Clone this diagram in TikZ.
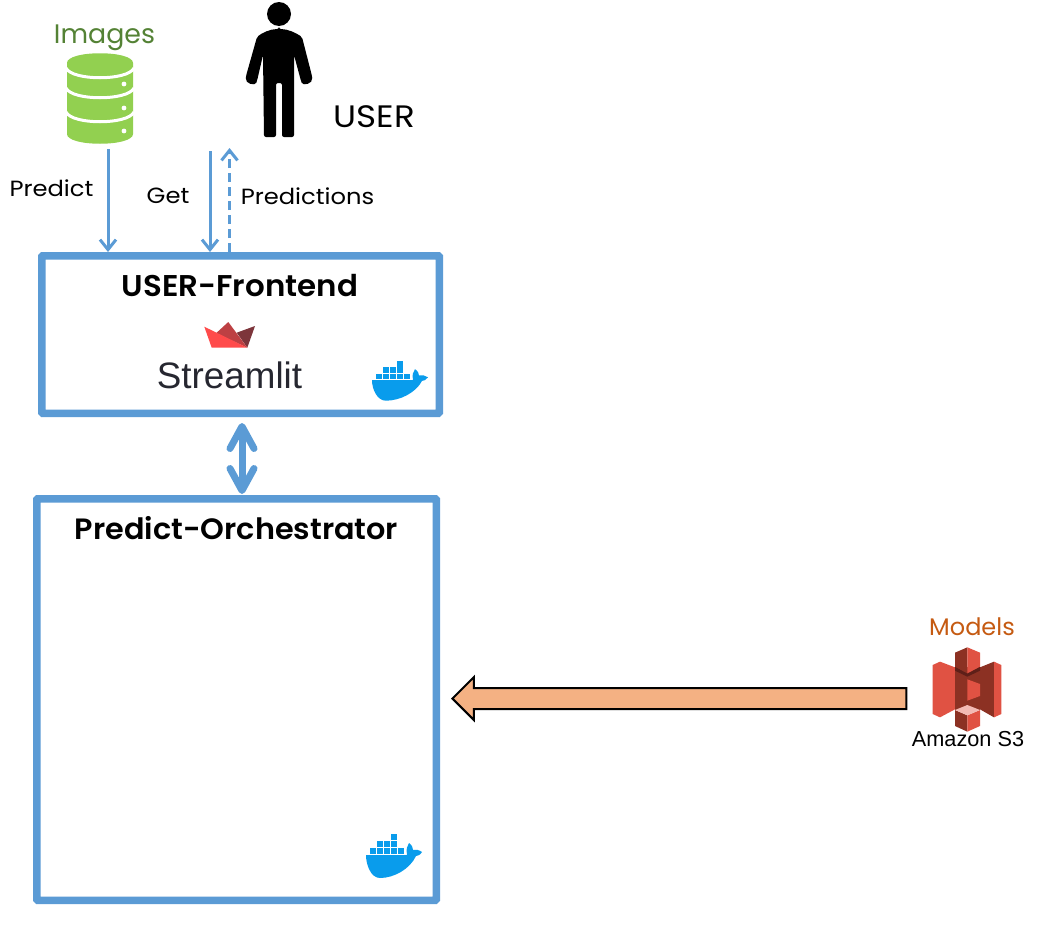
\documentclass[tikz,border=0pt]{standalone}
\usepackage{fontspec}
\setmainfont{Poppins}
\newfontfamily\logofont{Liberation Sans}
\newfontfamily\widefont{Poppins}[FakeStretch=1.1]
\newfontfamily\titlefont{Poppins SemiBold}[FakeStretch=1.03]
\usetikzlibrary{arrows.meta,shapes.arrows}
\definecolor{boxblue}{RGB}{91,155,213}
\definecolor{dockerblue}{RGB}{9,156,236}
\definecolor{dbgreen}{RGB}{146,208,80}
\definecolor{imggreen}{RGB}{84,130,53}
\definecolor{modelorange}{RGB}{197,90,17}
\definecolor{arrowfill}{RGB}{244,177,131}
\definecolor{sthree}{RGB}{224,82,67}
\definecolor{sthreedark}{RGB}{140,49,35}
\definecolor{sthreeshade}{RGB}{94,31,24}
\definecolor{crownbright}{RGB}{255,75,75}
\definecolor{crownmid}{RGB}{189,64,67}
\definecolor{crowndark}{RGB}{125,53,59}
\definecolor{logotext}{RGB}{38,39,48}
\tikzset{
  servicebox/.style={draw=boxblue,line width=7.5pt,rounded corners=1pt,fill=white,inner sep=0pt},
  titlelabel/.style={font=\titlefont\fontsize{30}{30}\selectfont,text=black},
  flowlabel/.style={font=\widefont\fontsize{22}{22}\selectfont,text=black},
  flow/.style={draw=boxblue,line width=3pt,-{Straight Barb[length=10pt,width=16pt,line width=3pt]}},
  biflow/.style={draw=boxblue,line width=7pt,{Straight Barb[length=22pt,width=24pt,line width=7pt,round]}-{Straight Barb[length=22pt,width=24pt,line width=7pt,round]}},
  feed/.style={single arrow,draw=black,line width=2pt,fill=arrowfill,shape border rotate=180,anchor=tip,
    inner xsep=0pt,inner ysep=9.5pt,single arrow head extend=11pt,minimum height=454pt},
  dockerlogo/.pic={
    \fill[dockerblue] (0,0) -- (41,0) .. controls (40,-6) and (41,-9) .. (43,-12) .. controls (46,-10) and (47,-7) .. (47,-5)
      .. controls (50,-6) and (53,-5) .. (56,-3) .. controls (54,0) and (52,1) .. (50,1)
      .. controls (44,14) and (28,23) .. (14,23) .. controls (5,23) and (0,10) .. (0,0) -- cycle;
    \foreach \i in {0,...,4} \fill[dockerblue] (4+6.9*\i,-0.7) rectangle ++(6.2,-6.3);
    \foreach \i in {1,2,3} \fill[dockerblue] (4+6.9*\i,-7.7) rectangle ++(6.2,-6.3);
    \fill[dockerblue] (24.7,-14.9) rectangle ++(6.2,-6.6);
  },
}
\begin{document}
\begin{tikzpicture}[x=1pt,y=-1pt]
\useasboundingbox (0,0) rectangle (1047,929);

% Service boxes
\node[servicebox,minimum width=397.5pt,minimum height=157.5pt] (frontend) at (240.5,334.5) {};
\node[servicebox,minimum width=399.5pt,minimum height=401.5pt] (orchestrator) at (236.5,699.5) {};
\node[titlelabel] (frontendtitle) at (240,285.5) {USER-Frontend};
\node[titlelabel,font=\titlefont\fontsize{29.4}{29.4}\selectfont] (orchestratortitle) at (236.5,528) {Predict-Orchestrator};

% Streamlit logo
\fill[crowndark] (236.7,332.7) -- (255,326) -- (247.3,347.7) -- cycle;
\fill[crownmid] (216,333.3) -- (228.3,322) -- (247.3,347.7) -- cycle;
\fill[crownbright] (204.3,326.7) -- (247.3,347.7) -- (211.7,347.7) -- cycle;
\node[font=\logofont\fontsize{36.8}{36.8}\selectfont,text=logotext] (streamlit) at (229.5,375) {Streamlit};

% Docker logos
\pic[yscale=0.9] at (372,380) {dockerlogo};
\pic at (366,855) {dockerlogo};

% Images database
\node[text=imggreen,font=\fontsize{26.8}{26.8}\selectfont] (images) at (104.5,38) {Images};
\fill[dbgreen] (67,63) .. controls (67,50) and (133,50) .. (133,63) -- (133,134) .. controls (133,147) and (67,147) .. (67,134) -- cycle;
\foreach \y in {68,88,112}
  \draw[white,line width=3pt] (66,\y) .. controls (72,\y+13) and (128,\y+13) .. (134,\y);
\foreach \y in {84,108,131}
  \fill[white] (124,\y) circle (2.4);

% User figure
\fill[black] (279,14) circle (12);
\fill[black,rounded corners=2pt] (279,29) .. controls (270,29) and (262,33) .. (257,37) -- (246,76)
  .. controls (245,84) and (255,86) .. (257,81) -- (263,55) -- (264,137) -- (276,137) -- (276,83) -- (282,83) -- (282,137) -- (294,137) -- (294,55)
  -- (301,81) .. controls (303,86) and (313,84) .. (312,76) -- (302,37) .. controls (296,33) and (288,29) .. (279,29) -- cycle;
\node[font=\widefont\fontsize{31}{31}\selectfont] (user) at (374.5,116.5) {USER};

% Amazon S3
\begin{scope}[shift={(890,610)},scale=1/3]
\fill[sthree] (128,165) -- (150,155) -- (195,172) -- (195,298) -- (150,322) -- (128,312) -- cycle;
\fill[sthreedark] (270,172) -- (312,155) -- (312,322) -- (270,298) -- cycle;
\fill[sthree] (312,155) -- (334,165) -- (334,312) -- (312,322) -- cycle;
\fill[sthreedark] (195,170) rectangle (270,300);
\fill[sthreeshade] (195,170) -- (232,190) -- (270,170) -- (270,182) -- (232,200) -- (195,182) -- cycle;
\fill[sthreedark] (195,128) -- (232,112) -- (232,190) -- (195,170) -- cycle;
\fill[sthree] (232,112) -- (270,128) -- (270,170) -- (232,190) -- cycle;
\fill[sthreedark] (195,222) -- (232,208) -- (232,272) -- (195,258) -- cycle;
\fill[sthree] (232,208) -- (270,222) -- (270,258) -- (232,272) -- cycle;
\fill[sthreedark] (195,300) -- (232,316) -- (232,365) -- (195,348) -- cycle;
\fill[sthree] (232,316) -- (270,300) -- (270,348) -- (232,365) -- cycle;
\fill[sthree!40!white] (195,300) -- (232,285) -- (270,300) -- (232,316) -- cycle;
\end{scope}
\node[text=modelorange,font=\fontsize{24}{24}\selectfont] (models) at (972,627) {Models};
\node[font=\logofont\fontsize{21.7}{21.7}\selectfont] (amazon) at (968,739) {Amazon S3};

% Connectors
\coordinate (predictout) at (108,149);
\coordinate (getout) at (210,151);
\coordinate (resultsin) at (229.5,148);
\coordinate (linkx) at (242,0);
\draw[flow] (predictout) -- (predictout |- frontend.north);
\draw[flow] (getout) -- (getout |- frontend.north);
\draw[flow,dash pattern=on 9pt off 5pt] (resultsin |- frontend.north) -- (resultsin);
\draw[biflow,shorten <=6pt,shorten >=1pt] (linkx |- frontend.south) -- (linkx |- orchestrator.north);
\node[feed] (modelfeed) at (451,698.5) {};

% Connector labels
\node[flowlabel] (predict) at (51.5,188) {Predict};
\node[flowlabel] (get) at (168,196) {Get};
\node[flowlabel] (predictions) at (307.5,196.5) {Predictions};
\end{tikzpicture}
\end{document}
